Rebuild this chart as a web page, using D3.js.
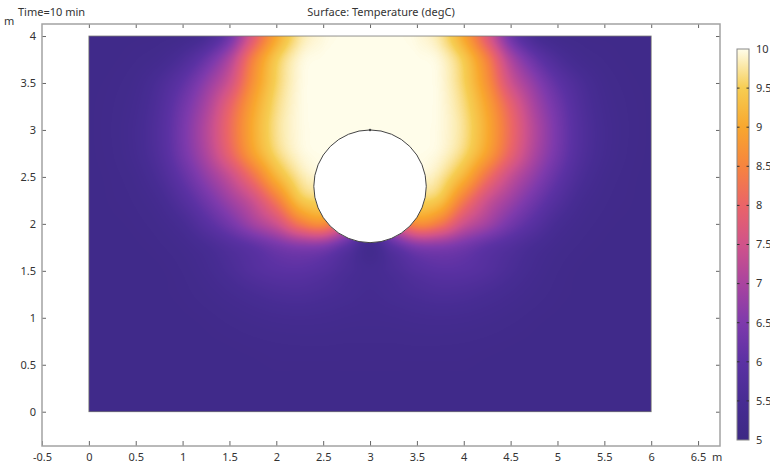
<!DOCTYPE html>
<html lang="en">
  <head>
    <meta charset="utf-8">
    <style>
      body { margin: 0; background: #fff; }
      text {
        font-family: "Noto Sans", "DejaVu Sans", sans-serif;
        font-size: 11px;
        fill: #333;
      }
      .frame { fill: none; stroke: #a3a3a3; stroke-width: 1.5; }
      .tick line { stroke: #666; }
      .domain { display: none; }
    </style>
  </head>
  <body>
  <script src="https://cdn.jsdelivr.net/npm/d3@7"></script>
  <script>
  // grid of temperatures (degC), rows from y=4 down to y=0
  var gridX = [0, 0.25, 0.5, 0.75, 1, 1.25, 1.5, 1.75, 2, 2.25, 2.5, 2.75, 3,
               3.25, 3.5, 3.75, 4, 4.25, 4.5, 4.75, 5, 5.25, 5.5, 5.75, 6];
  var gridY = [4, 3.75, 3.5, 3.25, 3, 2.75, 2.5, 2.25, 2, 1.75, 1.5, 1.25, 1, 0.75, 0.5, 0.25, 0];
  var temps = [
    [5.2,5.2,5.2,5.21,5.28,5.55,6.3,7.75,9.0,9.75,9.96,10,10,10,9.96,9.75,9.0,7.75,6.3,5.55,5.28,5.21,5.2,5.2,5.2],
    [5.2,5.2,5.24,5.35,5.65,6.2,7.05,8.45,9.45,9.92,10,10,10,10,10,9.92,9.45,8.45,7.05,6.2,5.65,5.35,5.24,5.2,5.2],
    [5.2,5.22,5.32,5.6,6.05,6.7,7.5,8.7,9.55,9.95,10,10,10,10,10,9.95,9.55,8.7,7.5,6.7,6.05,5.6,5.32,5.22,5.2],
    [5.2,5.24,5.38,5.72,6.3,7.0,7.95,8.95,9.65,9.96,10,10,10,10,10,9.96,9.65,8.95,7.95,7.0,6.3,5.72,5.38,5.24,5.2],
    [5.2,5.25,5.42,5.78,6.4,7.15,8.1,9.05,9.7,9.96,10,10,10,10,10,9.96,9.7,9.05,8.1,7.15,6.4,5.78,5.42,5.25,5.2],
    [5.2,5.24,5.4,5.75,6.35,7.05,7.95,8.9,9.6,9.93,10,10,10,10,10,9.93,9.6,8.9,7.95,7.05,6.35,5.75,5.4,5.24,5.2],
    [5.2,5.22,5.32,5.6,6.1,6.7,7.35,8.2,9.15,9.75,9.95,10,10,10,9.95,9.75,9.15,8.2,7.35,6.7,6.1,5.6,5.32,5.22,5.2],
    [5.2,5.21,5.26,5.42,5.8,6.3,6.85,7.45,8.35,9.35,9.6,9.75,9.8,9.75,9.6,9.35,8.35,7.45,6.85,6.3,5.8,5.42,5.26,5.21,5.2],
    [5.2,5.2,5.22,5.3,5.5,5.9,6.35,6.9,7.45,8.3,8.6,7.6,6.0,7.6,8.6,8.3,7.45,6.9,6.35,5.9,5.5,5.3,5.22,5.2,5.2],
    [5.2,5.2,5.2,5.23,5.32,5.5,5.75,6.0,6.3,6.5,6.45,5.95,5.35,5.95,6.45,6.5,6.3,6.0,5.75,5.5,5.32,5.23,5.2,5.2,5.2],
    [5.2,5.2,5.2,5.2,5.25,5.38,5.58,5.8,5.95,5.98,5.85,5.6,5.45,5.6,5.85,5.98,5.95,5.8,5.58,5.38,5.25,5.2,5.2,5.2,5.2],
    [5.2,5.2,5.2,5.2,5.22,5.29,5.4,5.52,5.62,5.65,5.58,5.48,5.4,5.48,5.58,5.65,5.62,5.52,5.4,5.29,5.22,5.2,5.2,5.2,5.2],
    [5.2,5.2,5.2,5.2,5.2,5.22,5.27,5.33,5.38,5.4,5.38,5.34,5.32,5.34,5.38,5.4,5.38,5.33,5.27,5.22,5.2,5.2,5.2,5.2,5.2],
    [5.2,5.2,5.2,5.2,5.2,5.2,5.21,5.23,5.25,5.26,5.26,5.25,5.25,5.25,5.26,5.26,5.25,5.23,5.21,5.2,5.2,5.2,5.2,5.2,5.2],
    [5.2,5.2,5.2,5.2,5.2,5.2,5.2,5.2,5.21,5.21,5.21,5.21,5.21,5.21,5.21,5.21,5.21,5.2,5.2,5.2,5.2,5.2,5.2,5.2,5.2],
    [5.2,5.2,5.2,5.2,5.2,5.2,5.2,5.2,5.2,5.2,5.2,5.2,5.2,5.2,5.2,5.2,5.2,5.2,5.2,5.2,5.2,5.2,5.2,5.2,5.2],
    [5.2,5.2,5.2,5.2,5.2,5.2,5.2,5.2,5.2,5.2,5.2,5.2,5.2,5.2,5.2,5.2,5.2,5.2,5.2,5.2,5.2,5.2,5.2,5.2,5.2]
  ];
  var domainX = [0, 6];
  var domainY = [0, 4];
  var hole = { cx: 3, cy: 2.4, r: 0.6 };

  var xTicks = [-0.5, 0, 0.5, 1, 1.5, 2, 2.5, 3, 3.5, 4, 4.5, 5, 5.5, 6, 6.5];
  var yTicks = [0, 0.5, 1, 1.5, 2, 2.5, 3, 3.5, 4];
  var colorTicks = [5, 5.5, 6, 6.5, 7, 7.5, 8, 8.5, 9, 9.5, 10];
  var colorStops = ['#3c2984', '#472c93', '#5b31a3', '#7e3aac', '#a9449f', '#d0538a',
                    '#ea6468', '#f6843f', '#f8a72e', '#f6cd52', '#fffdea'];

  var width = 770;
  var height = 463;

  var svg = d3.select("body")
    .append("svg")
    .attr('width', width)
    .attr('height', height);

  var x = d3.scaleLinear().domain([-0.5, 6.734]).range([42, 720]);
  var y = d3.scaleLinear().domain([-0.365, 4.128]).range([446, 24]);

  var color = d3.scaleLinear()
    .domain(colorTicks)
    .range(colorStops)
    .clamp(true);

  // index scales from data coordinates into the grid
  var col = d3.scaleLinear().domain([gridX[0], gridX[gridX.length - 1]]).range([0, gridX.length - 1]);
  var row = d3.scaleLinear().domain([gridY[0], gridY[gridY.length - 1]]).range([0, gridY.length - 1]);

  function cubic(p0, p1, p2, p3, t) {
    return p1 + 0.5 * t * (p2 - p0 + t * (2 * p0 - 5 * p1 + 4 * p2 - p3 + t * (3 * (p1 - p2) + p3 - p0)));
  }
  function at(r, c) {
    r = Math.max(0, Math.min(gridY.length - 1, r));
    c = Math.max(0, Math.min(gridX.length - 1, c));
    return temps[r][c];
  }
  function sample(gx, gy) {
    var fc = col(gx), fr = row(gy);
    var c = Math.floor(fc), r = Math.floor(fr);
    var tc = fc - c, tr = fr - r;
    var rows = [];
    for (var k = -1; k <= 2; k++) {
      rows.push(cubic(at(r + k, c - 1), at(r + k, c), at(r + k, c + 1), at(r + k, c + 2), tc));
    }
    return cubic(rows[0], rows[1], rows[2], rows[3], tr);
  }

  // lookup table of colours
  var lut = d3.range(0, 501).map(function(i) { return d3.rgb(color(5 + i / 100)); });

  var px0 = Math.round(x(domainX[0])), px1 = Math.round(x(domainX[1]));
  var py0 = Math.round(y(domainY[1])), py1 = Math.round(y(domainY[0]));
  var cw = px1 - px0, ch = py1 - py0;
  var canvas = document.createElement('canvas');
  canvas.width = cw;
  canvas.height = ch;
  var ctx = canvas.getContext('2d');
  var img = ctx.createImageData(cw, ch);
  for (var j = 0; j < ch; j++) {
    var gy = y.invert(py0 + j + 0.5);
    for (var i = 0; i < cw; i++) {
      var gx = x.invert(px0 + i + 0.5);
      var v = Math.max(5, Math.min(10, sample(gx, gy)));
      var c = lut[Math.round((v - 5) * 100)];
      var o = (j * cw + i) * 4;
      img.data[o] = c.r;
      img.data[o + 1] = c.g;
      img.data[o + 2] = c.b;
      img.data[o + 3] = 255;
    }
  }
  ctx.putImageData(img, 0, 0);

  svg.append('image')
    .attr('x', px0)
    .attr('y', py0)
    .attr('width', cw)
    .attr('height', ch)
    .attr('preserveAspectRatio', 'none')
    .attr('href', canvas.toDataURL());

  svg.append('rect')
    .attr('x', x(domainX[0]))
    .attr('y', y(domainY[1]))
    .attr('width', x(domainX[1]) - x(domainX[0]))
    .attr('height', y(domainY[0]) - y(domainY[1]))
    .attr('fill', 'none')
    .attr('stroke', '#777')
    .attr('stroke-width', 0.8);

  // the hole
  svg.append('ellipse')
    .attr('cx', x(hole.cx))
    .attr('cy', y(hole.cy))
    .attr('rx', x(hole.cx + hole.r) - x(hole.cx))
    .attr('ry', y(hole.cy) - y(hole.cy + hole.r))
    .attr('fill', '#fff')
    .attr('stroke', '#444')
    .attr('stroke-width', 1);
  svg.append('circle')
    .attr('cx', x(hole.cx))
    .attr('cy', y(hole.cy + hole.r))
    .attr('r', 1.2)
    .attr('fill', '#444');

  // axes
  var fmt = function(d) { return String(d); };
  svg.append('g')
    .attr('transform', 'translate(0,' + y.range()[0] + ')')
    .call(d3.axisBottom(x).tickValues(xTicks).tickFormat(fmt).tickSize(-5).tickPadding(7));
  svg.append('g')
    .attr('transform', 'translate(0,' + y.range()[1] + ')')
    .call(d3.axisTop(x).tickValues(xTicks.slice(1)).tickFormat('').tickSize(-4));
  svg.append('g')
    .attr('transform', 'translate(' + x.range()[0] + ',0)')
    .call(d3.axisLeft(y).tickValues(yTicks).tickFormat(fmt).tickSize(-4).tickPadding(6));
  svg.append('g')
    .attr('transform', 'translate(' + x.range()[1] + ',0)')
    .call(d3.axisRight(y).tickValues(yTicks).tickFormat('').tickSize(-4));

  svg.selectAll('.tick text').attr('font-family', null).attr('font-size', null);

  svg.append('rect')
    .attr('class', 'frame')
    .attr('x', x.range()[0])
    .attr('y', y.range()[1])
    .attr('width', x.range()[1] - x.range()[0])
    .attr('height', y.range()[0] - y.range()[1]);

  svg.append('text').attr('x', 4).attr('y', 25).text('m');
  svg.append('text').attr('x', 712).attr('y', 461).text('m');
  svg.append('text').attr('x', 18).attr('y', 16).text('Time=10 min');
  svg.append('text')
    .attr('x', (x.range()[0] + x.range()[1]) / 2)
    .attr('y', 16)
    .attr('text-anchor', 'middle')
    .text('Surface: Temperature (degC)');

  // colour legend
  var cb = d3.scaleLinear().domain([5, 10]).range([440, 49]);
  var cbX = 737, cbW = 12;
  var grad = svg.append('defs').append('linearGradient')
    .attr('id', 'cbar')
    .attr('x1', 0).attr('y1', 1).attr('x2', 0).attr('y2', 0);
  grad.selectAll('stop')
    .data(colorTicks)
    .enter().append('stop')
    .attr('offset', function(d) { return (d - 5) / 5; })
    .attr('stop-color', function(d) { return color(d); });

  svg.append('rect')
    .attr('x', cbX)
    .attr('y', cb(10))
    .attr('width', cbW)
    .attr('height', cb(5) - cb(10))
    .attr('fill', 'url(#cbar)')
    .attr('stroke', '#888')
    .attr('stroke-width', 1);

  var inner = colorTicks.slice(1, -1);
  svg.selectAll('.cbl')
    .data(inner)
    .enter().append('line')
    .attr('x1', cbX).attr('x2', cbX + 2.5)
    .attr('y1', cb).attr('y2', cb)
    .attr('stroke', '#333');
  svg.selectAll('.cbr')
    .data(inner)
    .enter().append('line')
    .attr('x1', cbX + cbW - 2.5).attr('x2', cbX + cbW)
    .attr('y1', cb).attr('y2', cb)
    .attr('stroke', '#333');
  svg.selectAll('.cbt')
    .data(colorTicks)
    .enter().append('text')
    .attr('x', cbX + cbW + 7)
    .attr('y', cb)
    .attr('dy', '0.35em')
    .text(fmt);
  </script>
  </body>
</html>
